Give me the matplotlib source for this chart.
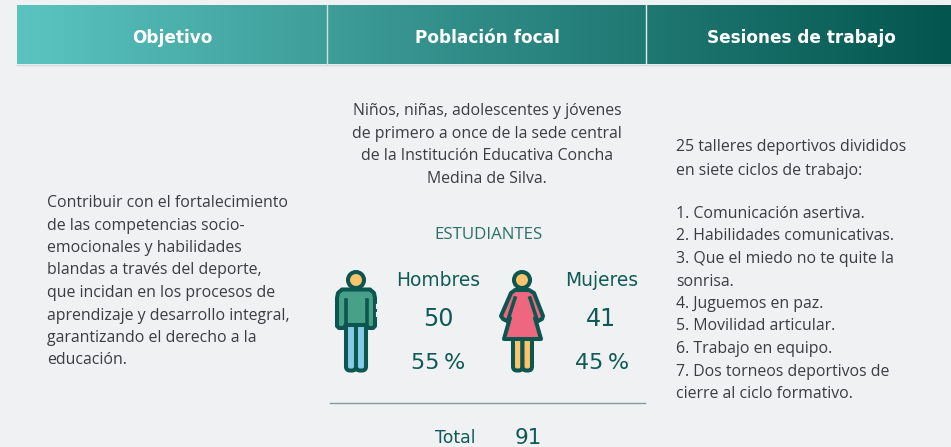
import numpy as np
import matplotlib
matplotlib.use("Agg")
import matplotlib.pyplot as plt
from matplotlib.patches import Polygon, Circle, FancyBboxPatch
from matplotlib.colors import LinearSegmentedColormap

headers = ["Objetivo", "Población focal", "Sesiones de trabajo"]
header_x = [172, 487, 801]
objetivo = ["Contribuir con el fortalecimiento", "de las competencias socio-",
            "emocionales y habilidades", "blandas a través del deporte,",
            "que incidan en los procesos de", "aprendizaje y desarrollo integral,",
            "garantizando el derecho a la", "educación."]
poblacion = ["Niños, niñas, adolescentes y jóvenes", "de primero a once de la sede central",
             "de la Institución Educativa Concha", "Medina de Silva."]
sesiones_top = ["25 talleres deportivos divididos", "en siete ciclos de trabajo:"]
sesiones = ["1. Comunicación asertiva.", "2. Habilidades comunicativas.",
            "3. Que el miedo no te quite la", "sonrisa.", "4. Juguemos en paz.",
            "5. Movilidad articular.", "6. Trabajo en equipo.",
            "7. Dos torneos deportivos de", "cierre al ciclo formativo."]
grupos = ["Hombres", "Mujeres"]
conteos = [50, 41]
porcentajes = ["55\u2009%", "45\u2009%"]
total = 91

BG = "#eff1f3"
DARK = "#0f5a54"
BODY = "#3a3d40"
OUT = "#0d5650"

fig = plt.figure(figsize=(9.51, 4.47), dpi=100, facecolor=BG)
ax = fig.add_axes([0, 0, 1, 1])

# header band
cmap = LinearSegmentedColormap.from_list("h", ["#5bc4c1", "#2f8a85", "#03564f"])
grad = np.linspace(0, 1, 256).reshape(1, -1)
ax.imshow(grad, extent=[17, 951, 64, 5], cmap=cmap, aspect="auto", zorder=1)
ax.set_xlim(0, 951)
ax.set_ylim(447, 0)
ax.axis("off")
ax.plot([327, 327], [5, 64], color="#cfe0de", lw=1, zorder=2)
ax.plot([646, 646], [5, 64], color="#e4eeed", lw=1, zorder=2)
ax.plot([17, 951], [64.5, 64.5], color="#d5d9da", lw=1, zorder=2)
for x, h in zip(header_x, headers):
    ax.text(x, 43, h, color="white", fontsize=12.2, fontweight="bold", family="DejaVu Sans",
            ha="center", va="baseline", zorder=3)


def body(x, y, s, ha="left"):
    ax.text(x, y + 5, s, fontsize=11.4, family="Open Sans", color=BODY, ha=ha, va="baseline")


for i, s in enumerate(objetivo):
    body(47, 202 + i * 22.5, s)
for i, s in enumerate(poblacion):
    body(487, 110 + i * 22.7, s, ha="center")
for i, s in enumerate(sesiones_top):
    body(676, 146 + i * 24, s)
for i, s in enumerate(sesiones):
    body(676, 213 + i * 22.5, s)

ax.text(488, 239, "ESTUDIANTES", fontsize=12.2, family="Open Sans", color="#2b6f69", ha="center", va="baseline")


def shape(pts, fc, lw=2.9):
    ax.add_patch(Polygon(pts, closed=True, fc=fc, ec=OUT, lw=lw, joinstyle="round", zorder=4))


def leg(x0, x1, y0, y1, fc):
    ax.add_patch(FancyBboxPatch((x0 + 3, y0), x1 - x0 - 6, y1 - y0 - 3,
                                boxstyle="round,pad=3,rounding_size=4", fc=fc, ec=OUT, lw=2.9, zorder=3))


# hombre
leg(346, 356, 318, 370.5, "#85cbe8")
leg(356, 366, 318, 370.5, "#85cbe8")
shape([(337, 298), (338, 293), (342, 289.5), (370, 289.5), (374, 293), (375, 298),
       (375, 326), (373, 328), (368, 328), (366.5, 325), (345.5, 325), (344, 328),
       (339, 328), (337, 326)], "#48a088")
ax.plot([345.5, 345.5], [300, 326], color=OUT, lw=2.6, zorder=5)
ax.plot([366.5, 366.5], [300, 326], color=OUT, lw=2.6, zorder=5)
ax.plot([376.5, 376.5], [305, 307.5], color=BG, lw=1.5, zorder=6)
ax.plot([376.5, 376.5], [313, 315.5], color=BG, lw=1.5, zorder=6)
ax.add_patch(Circle((356, 280), 8, fc="#fbc36b", ec=OUT, lw=2.9, zorder=5))

# mujer
leg(513, 522.5, 330, 370.5, "#fbc36b")
leg(522.5, 532, 330, 370.5, "#fbc36b")
shape([(515, 290), (529, 290), (534, 293), (543, 316), (542, 319), (538, 321), (535, 318),
       (541, 339), (504, 339), (510, 318), (507, 321), (503, 319), (501, 316), (511, 293)], "#ee677f")
ax.plot([515, 508.5], [298, 318], color=OUT, lw=2.6, zorder=5)
ax.plot([530, 536.5], [298, 318], color=OUT, lw=2.6, zorder=5)
ax.add_patch(Circle((522, 280), 8, fc="#fbc36b", ec=OUT, lw=2.9, zorder=5))

for x, g, n, p in zip([438, 602], grupos, conteos, porcentajes):
    ax.text(x, 286, g, fontsize=13.4, family="DejaVu Sans", color=DARK, ha="center", va="baseline")
    ax.text(x - (0 if x < 500 else 1), 326, str(n), fontsize=17.2, family="DejaVu Sans", color=DARK,
            ha="center", va="baseline")
    ax.text(x, 369, p, fontsize=16, family="DejaVu Sans", color=DARK, ha="center", va="baseline")

ax.plot([330, 645], [403, 403], color="#7f9f9c", lw=1)
ax.text(455, 443, "Total", fontsize=12.4, family="DejaVu Sans", color=DARK, ha="center", va="baseline")
ax.text(528, 444, str(total), fontsize=15.5, family="DejaVu Sans", color=DARK, ha="center", va="baseline")

fig.savefig("out.png", dpi=100, facecolor=BG)
